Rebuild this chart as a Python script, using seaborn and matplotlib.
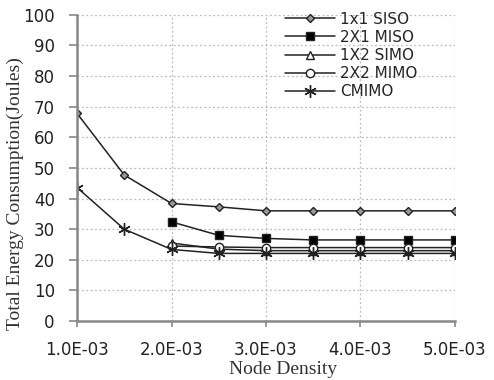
import matplotlib
matplotlib.use("Agg")
import matplotlib.pyplot as plt
import seaborn as sns
import pandas as pd

# node density in units of 1e-3
density = [1.0, 1.5, 2.0, 2.5, 3.0, 3.5, 4.0, 4.5, 5.0]
siso_1x1 = [67.8, 47.7, 38.4, 37.3, 36.0, 36.0, 36.0, 36.0, 36.0]
miso_2x1 = [32.4, 28.0, 27.0, 26.5, 26.5, 26.5, 26.5]
simo_1x2 = [25.5, 23.5, 23.0, 23.0, 23.0, 23.0, 23.0]
mimo_2x2 = [24.5, 24.2, 24.0, 24.0, 24.0, 24.0, 24.0]
cmimo = [43.6, 30.0, 23.4, 22.1, 22.1, 22.1, 22.1, 22.1, 22.1]

series = [
    ("1x1 SISO", density, siso_1x1, "D", "#999999", 4),
    ("2X1 MISO", density[2:], miso_2x1, "s", "black", 5.5),
    ("1X2 SIMO", density[2:], simo_1x2, "^", "white", 6),
    ("2X2 MIMO", density[2:], mimo_2x2, "o", "white", 6),
    ("CMIMO", density, cmimo, (6, 2, 0), "black", 9),
]
xtick_labels = ["1.0E-03", "2.0E-03", "3.0E-03", "4.0E-03", "5.0E-03"]

sns.set_style("white")
plt.rcParams["font.family"] = ["DejaVu Sans"]

fig = plt.figure(figsize=(4.94, 3.8), dpi=100)
ax = fig.add_axes([0.156, 0.155, 0.765, 0.806])

for name, xs, ys, mk, fc, ms in series:
    df = pd.DataFrame({"x": xs, "y": ys})
    sns.lineplot(data=df, x="x", y="y", ax=ax, color="#222222", linewidth=1.1,
                 marker=mk, markersize=ms, markerfacecolor=fc,
                 markeredgecolor="#222222", markeredgewidth=1.0, label=name)

ax.set_xlim(1.0, 5.0)
ax.set_ylim(0, 100)
ax.set_xticks([1, 2, 3, 4, 5])
ax.set_xticklabels(xtick_labels)
ax.set_yticks(range(0, 101, 10))
ax.grid(True, linestyle=(0, (1.5, 2)), color="#bbbbbb", linewidth=0.9)
ax.set_axisbelow(True)
ax.tick_params(axis="both", labelsize=12, colors="#222222", width=1.2,
               direction="out", color="#888888", left=True, bottom=True)
ax.tick_params(axis="y", length=6, pad=10)
ax.tick_params(axis="x", length=4.5, pad=10)
for side in ["top", "right"]:
    ax.spines[side].set_visible(False)
for side in ["left", "bottom"]:
    ax.spines[side].set_color("#888888")
    ax.spines[side].set_linewidth(1.8)

ax.set_xlabel("Node Density", family="Liberation Serif", fontsize=14,
              color="#333333")
ax.set_ylabel("Total Energy Consumption(Joules)", family="Liberation Serif",
              fontsize=14, color="#333333")
ax.xaxis.set_label_coords(0.545, -0.13)
ax.yaxis.set_label_coords(-0.14, 0.415)

leg = ax.legend(loc="upper left", bbox_to_anchor=(0.55, 1.01), frameon=False,
                fontsize=11, handlelength=3.3, labelspacing=0.2, handletextpad=0.3,
                borderpad=0, borderaxespad=0)

fig.savefig("out.png", dpi=100)
